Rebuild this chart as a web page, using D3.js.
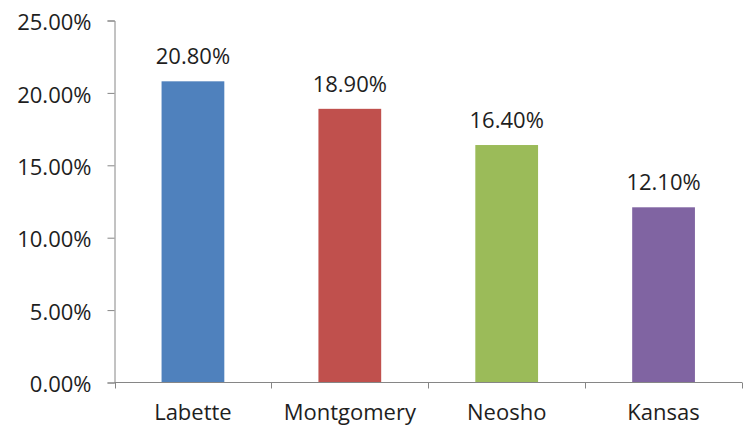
<!DOCTYPE html>
<html><head><meta charset="utf-8">
<script src="https://cdn.jsdelivr.net/npm/d3@7"></script>
<style>body{margin:0;background:#fff;}svg{display:block;}text{font-family:"Open Sans", Lato, sans-serif;fill:#1e1e1e;}</style>
</head><body><svg id="c" width="750" height="427"></svg>
<script>
const categories = ["Labette", "Montgomery", "Neosho", "Kansas"];
const values = [20.8, 18.9, 16.4, 12.1];
const colors = ["#4F81BD", "#C0504D", "#9BBB59", "#8064A2"];
const yTicks = [0, 5, 10, 15, 20, 25];

(function () {
const svg = d3.select("#c");
const mLeft = 114.5, mRight = 742, mTop = 20.5, mBottom = 382.5;
const fs = 22;
const x = d3.scaleBand().domain(categories).range([mLeft, mRight]).paddingInner(0.6).paddingOuter(0.3);
const y = d3.scaleLinear().domain([0, 25]).range([mBottom, mTop]);
const axisColor = "#868686";

svg.selectAll("rect.bar").data(values).join("rect")
  .attr("class", "bar")
  .attr("x", (d, i) => x(categories[i]))
  .attr("width", x.bandwidth())
  .attr("y", d => y(d))
  .attr("height", d => y(0) - y(d))
  .attr("fill", (d, i) => colors[i]);

const yAxis = svg.append("g").attr("transform", `translate(${mLeft},0)`)
  .call(d3.axisLeft(y).tickValues(yTicks).tickSize(7).tickPadding(16).tickFormat(d => d.toFixed(2) + "%"));
yAxis.select(".domain").attr("stroke", axisColor);
yAxis.selectAll(".tick line").attr("stroke", axisColor);
yAxis.selectAll("text").attr("font-size", fs).attr("dy", "0.42em").attr("fill", "#1e1e1e")
  .style("font-family", "'Open Sans', Lato, sans-serif");

const bounds = d3.range(categories.length + 1).map(i => mLeft + i * (mRight - mLeft) / categories.length);
svg.append("line").attr("x1", mLeft).attr("x2", mRight).attr("y1", mBottom).attr("y2", mBottom).attr("stroke", axisColor);
svg.selectAll("line.xt").data(bounds).join("line").attr("class", "xt")
  .attr("x1", d => Math.round(d) + 0.5).attr("x2", d => Math.round(d) + 0.5)
  .attr("y1", mBottom).attr("y2", mBottom + 6).attr("stroke", axisColor);

svg.selectAll("text.xl").data(categories).join("text").attr("class", "xl")
  .attr("x", d => x(d) + x.bandwidth() / 2).attr("y", 420)
  .attr("text-anchor", "middle").attr("font-size", fs).text(d => d);

svg.selectAll("text.vl").data(values).join("text").attr("class", "vl")
  .attr("x", (d, i) => x(categories[i]) + x.bandwidth() / 2).attr("y", d => y(d) - 17)
  .attr("text-anchor", "middle").attr("font-size", fs).text(d => d.toFixed(2) + "%");
})();
</script></body></html>
